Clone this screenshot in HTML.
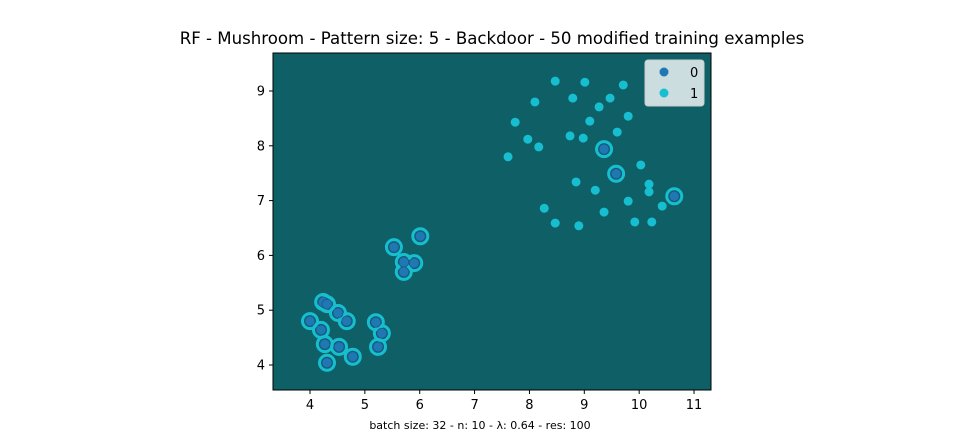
<!DOCTYPE html>
<html><head><meta charset="utf-8"><style>
body{margin:0;background:#fff;font-family:"Liberation Sans","DejaVu Sans",sans-serif}
svg text{font-family:"DejaVu Sans","Liberation Sans",sans-serif}
</style></head><body>
<svg id="chart" width="960" height="438" xmlns="http://www.w3.org/2000/svg">
<text x="492" y="44" text-anchor="middle" font-size="16.6">RF - Mushroom - Pattern size: 5 - Backdoor - 50 modified training examples</text>
<rect x="273" y="53" width="438" height="337" fill="#0e5f66"/>
<g id="marks"></g>
<g id="axes"></g>
<g>
<rect x="645" y="60" width="59" height="46" rx="3" fill="#d6e4e6" fill-opacity="0.95" stroke="#ccc"/>
<circle cx="664" cy="72" r="4.5" fill="#1f77b4"/>
<text x="690" y="77" font-size="13">0</text>
<circle cx="664" cy="93" r="4.5" fill="#17becf"/>
<text x="690" y="98" font-size="13">1</text>
</g>
<text x="480" y="429" text-anchor="middle" font-size="11">batch size: 32 - n: 10 - λ: 0.64 - res: 100</text>
</svg>
<script>
const class1X=[8.47,9.01,9.71,8.10,8.79,9.47,9.27,9.80,7.74,9.10,9.60,7.97,8.74,8.98,8.17,7.61,10.03,8.85,10.18,9.20,10.18,9.80,10.42,8.27,9.36,8.47,8.90,9.92,10.23];
const class1Y=[9.18,9.16,9.11,8.80,8.87,8.87,8.71,8.54,8.43,8.45,8.25,8.12,8.18,8.14,7.98,7.80,7.65,7.34,7.30,7.19,7.16,6.99,6.90,6.86,6.79,6.59,6.54,6.61,6.61];
const class0X=[9.36,9.58,10.64,6.01,5.53,5.71,5.90,5.71,4.24,4.31,4.51,4.67,4.00,4.20,5.20,5.31,5.24,4.27,4.53,4.31,4.78];
const class0Y=[7.94,7.49,7.08,6.35,6.15,5.88,5.86,5.70,5.15,5.11,4.95,4.80,4.80,4.64,4.78,4.58,4.33,4.38,4.33,4.04,4.15];
const xTicks=[4,5,6,7,8,9,10,11];
const yTicks=[4,5,6,7,8,9];
const NS="http://www.w3.org/2000/svg";
const sx=v=>310+(v-4)*54.86;
const sy=v=>365-(v-4)*54.8;
const marks=document.getElementById('marks');
const axes=document.getElementById('axes');
function mk(t,a,p){const e=document.createElementNS(NS,t);for(const k in a)e.setAttribute(k,a[k]);p.appendChild(e);return e;}
class1X.forEach((x,i)=>{
 const c=mk('circle',{cx:sx(x),cy:sy(class1Y[i]),r:4.5,fill:'#17becf'},marks);
 
 
});
class0X.forEach((x,i)=>{
 const r=mk('circle',{cx:sx(x),cy:sy(class0Y[i]),r:7.5,fill:'none',stroke:'#17becf','stroke-width':3},marks);
 
 
});
class0X.forEach((x,i)=>{
 const c=mk('circle',{cx:sx(x),cy:sy(class0Y[i]),r:5,fill:'#1f77b4',stroke:'#1a5a80','stroke-width':0.8},marks);
 
 
});
xTicks.forEach(t=>{
 const l=mk('line',{x1:sx(t),x2:sx(t),y1:390,y2:394,stroke:'#000'},axes);
 
 
 const tx=mk('text',{x:sx(t),y:409,'text-anchor':'middle','font-size':13},axes);
 tx.textContent=t;
 
 
});
yTicks.forEach(t=>{
 const l=mk('line',{x1:269,x2:273,y1:sy(t),y2:sy(t),stroke:'#000'},axes);
 
 
 const tx=mk('text',{x:265,y:sy(t)+4.5,'text-anchor':'end','font-size':13},axes);
 tx.textContent=t;
 
 
});
const fr=mk('rect',{x:273,y:53,width:438,height:337,fill:'none',stroke:'#000','stroke-width':1},axes);


</script>
</body></html>
